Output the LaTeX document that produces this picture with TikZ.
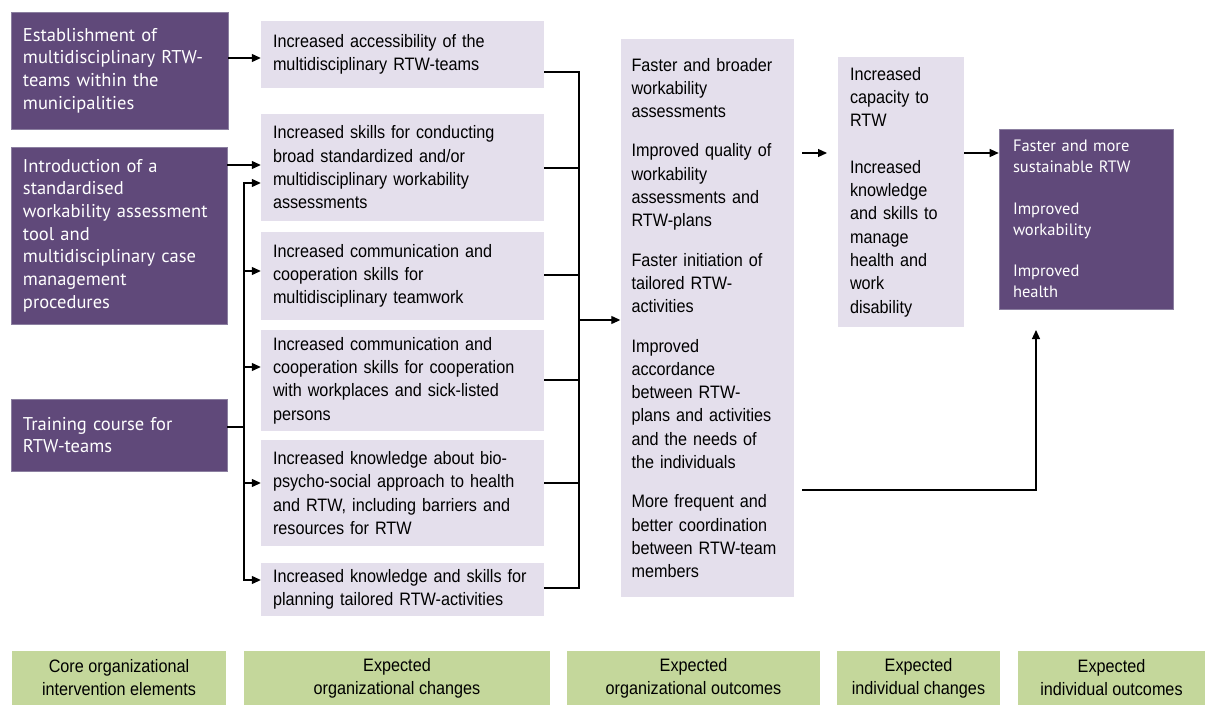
\documentclass[tikz,border=0pt]{standalone}
\usepackage{fontspec}
\setmainfont{Liberation Sans}[FakeStretch=0.9]
\newfontfamily\pfont{PT Sans}
\usetikzlibrary{arrows.meta}
\definecolor{pdark}{HTML}{60497A}
\definecolor{pline}{HTML}{8B7FA0}
\definecolor{lav}{HTML}{E4DFEC}
\definecolor{grn}{HTML}{C4D79B}
\begin{document}
\begin{tikzpicture}[x=1pt,y=-1pt,
  base/.style={rectangle, inner ysep=0pt, align=left, anchor=center},
  pbox/.style={base, fill=pdark, draw=pline, line width=0.6pt, text=white,
    font=\pfont\fontsize{18.5}{22.7}\selectfont, inner xsep=12pt},
  lbox/.style={base, fill=lav, font=\fontsize{18}{23.3}\selectfont, inner xsep=12pt},
  mbox/.style={lbox, minimum width=283pt, text width=259pt},
  gbox/.style={base, fill=grn, align=center, minimum height=54pt,
    font=\fontsize{18}{23}\selectfont},
  ln/.style={line width=1.2pt},
  arr/.style={line width=1.2pt, -{Triangle[length=9pt,width=8pt]}}]
\useasboundingbox (0,0) rectangle (1211,707);

% core elements
\node[pbox, minimum width=217pt, minimum height=117pt, text width=193pt] (A) at (119.5,70.5)
  {Establishment of\\multidisciplinary RTW-\\teams within the\\municipalities};
\node[pbox, minimum width=214pt, minimum height=177pt, text width=192pt] (B) at (119,235.5)
  {Introduction of a\\standardised\\workability assessment\\tool and\\multidisciplinary case\\management\\procedures};
\node[pbox, minimum width=214pt, minimum height=72pt, text width=192pt] (C) at (119,435)
  {Training course for\\RTW-teams};

% organizational changes
\node[mbox, minimum height=67pt] (M1) at (402.5,54.5)
  {Increased accessibility of the\\multidisciplinary RTW-teams};
\node[mbox, minimum height=107pt] (M2) at (402.5,167.5)
  {Increased skills for conducting\\broad standardized and/or\\multidisciplinary workability\\assessments};
\node[mbox, minimum height=88pt] (M3) at (402.5,276)
  {Increased communication and\\cooperation skills for\\multidisciplinary teamwork};
\node[mbox, minimum height=101pt] (M4) at (402.5,380.5)
  {Increased communication and\\cooperation skills for cooperation\\with workplaces and sick-listed\\persons};
\node[mbox, minimum height=106pt] (M5) at (402.5,493)
  {Increased knowledge about bio-\\psycho-social approach to health\\and RTW, including barriers and\\resources for RTW};
\node[mbox, minimum height=53pt] (M6) at (402.5,589)
  {Increased knowledge and skills for\\planning tailored RTW-activities};

% organizational outcomes
\node[lbox, minimum width=173pt, minimum height=558pt, text width=151pt, inner xsep=11pt] (O) at (707,318)
  {Faster and broader\\workability\\assessments\\[16pt]Improved quality of\\workability\\assessments and\\RTW-plans\\[16pt]Faster initiation of\\tailored RTW-\\activities\\[16pt]Improved\\accordance\\between RTW-\\plans and activities\\and the needs of\\the individuals\\[16pt]More frequent and\\better coordination\\between RTW-team\\members};

% individual changes
\node[lbox, minimum width=126pt, minimum height=270pt, text width=102pt] (I) at (901,192)
  {Increased\\capacity to\\RTW\\[23pt]Increased\\knowledge\\and skills to\\manage\\health and\\work\\disability};

% individual outcomes
\node[base, fill=pdark, draw=pline, line width=0.6pt, text=white,
  font=\pfont\fontsize{16.5}{20.8}\selectfont, inner xsep=14pt,
  minimum width=174pt, minimum height=180pt, text width=146pt] (P) at (1086,219)
  {Faster and more\\sustainable RTW\\[21pt]Improved\\workability\\[21pt]Improved\\health};

% bottom labels
\node[gbox, minimum width=214pt] (G1) at (119,678) {Core organizational\\intervention elements};
\node[gbox, minimum width=306pt] (G2) at (397,678) {Expected\\organizational changes};
\node[gbox, minimum width=253pt] (G3) at (693.5,678) {Expected\\organizational outcomes};
\node[gbox, minimum width=163pt] (G4) at (918.5,678) {Expected\\individual changes};
\node[gbox, minimum width=187pt] (G5) at (1111.5,678) {Expected\\individual outcomes};

% connectors: core -> changes
\draw[arr] (A.east |- 0,58) -- (M1.west |- 0,58);
\draw[arr] (B.east |- 0,165) -- (M2.west |- 0,165);
\coordinate (ct) at (244,427);
\draw[ln] (C.east |- ct) -- (ct);
\foreach \n/\y in {M2/183, M3/271, M4/367, M5/483, M6/580}
  \draw[arr] (ct) |- (\n.west |- 0,\y);

% changes -> outcomes bus
\coordinate (bus) at (579,320);
\foreach \n/\y in {M1/72, M2/168, M3/275, M4/380, M5/483, M6/588}
  \draw[ln] (\n.east |- 0,\y) -| (bus);
\draw[arr] (bus) -- (O.west |- bus);

% outcomes -> individual
\coordinate (oiS) at (802,153);
\coordinate (oiE) at (827,153);
\draw[arr] (oiS) -- (oiE);
\draw[arr] (I.east |- 0,153) -- (P.west |- 0,153);
\coordinate (ob) at (802,490);
\coordinate (pin) at (1036,330);
\draw[arr] (ob) -| (pin);
\end{tikzpicture}
\end{document}
